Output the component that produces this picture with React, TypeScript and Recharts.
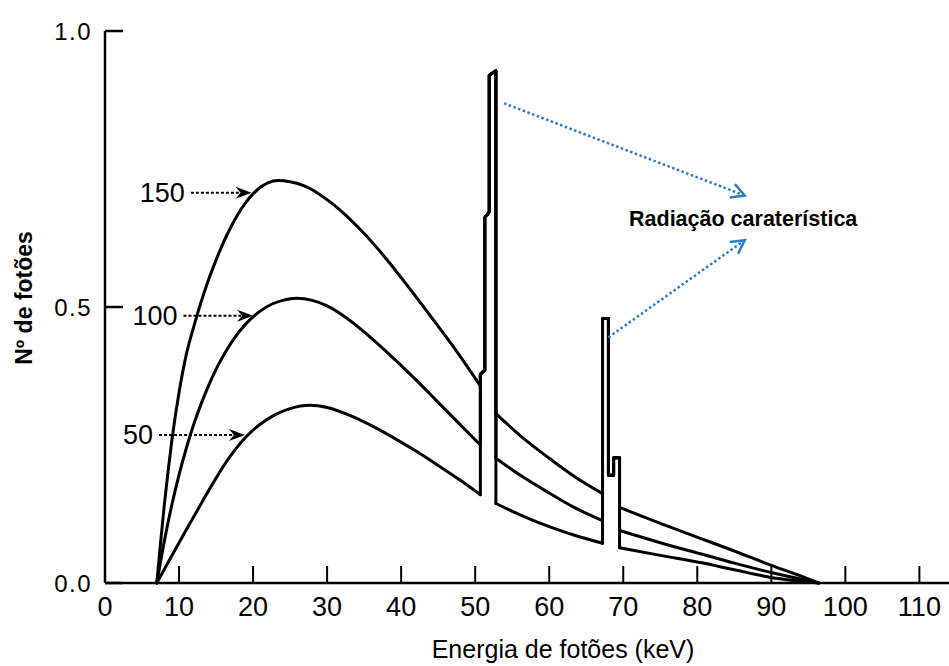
import { LineChart, Line, XAxis, YAxis, ReferenceLine, ReferenceDot } from 'recharts';

const FONT = "'Liberation Sans', Arial, Helvetica, sans-serif";
const INK = '#000000';
const NOTE_BLUE = '#2b7bc4';

// axis ticks
const energyTicks = [0, 10, 20, 30, 40, 50, 60, 70, 80, 90, 100, 110];
const countTicks = [0, 0.5, 1];

// 150 kVp spectrum: bremsstrahlung parts between the characteristic lines
const kv150Low = [
  [7, 0], [7.5, 0.072], [8, 0.14], [8.5, 0.2], [9, 0.255], [10, 0.345], [11, 0.415], [12, 0.465],
  [13, 0.51], [14, 0.55], [15, 0.585], [16, 0.617], [17, 0.645], [18, 0.669], [19, 0.689],
  [20, 0.705], [21, 0.717], [22, 0.725], [23.4, 0.729], [25, 0.727], [27, 0.719], [29, 0.704],
  [31, 0.684], [33, 0.66], [35, 0.633], [38, 0.587], [41, 0.536], [44, 0.483], [47, 0.429], [50.7, 0.357],
];
const kv150Mid = [[52.8, 0.307], [56, 0.268], [60, 0.226], [63.5, 0.192], [67.2, 0.162]];
const kv150High = [[69.5, 0.137], [75, 0.108], [80.4, 0.081], [85, 0.058], [90, 0.032], [93.5, 0.015], [96.4, 0]];

// 100 kVp
const kv100Low = [
  [7, 0], [8, 0.075], [9, 0.14], [10, 0.196], [11, 0.245], [12, 0.288], [13, 0.325], [14, 0.358],
  [15, 0.387], [16, 0.412], [17, 0.434], [18, 0.453], [19, 0.469], [20, 0.482], [21, 0.493],
  [22.5, 0.505], [24, 0.512], [25.9, 0.516], [28, 0.512], [30, 0.502], [32, 0.486], [35, 0.455],
  [38, 0.419], [41, 0.381], [44, 0.341], [47, 0.3], [50.7, 0.25],
];
const kv100Mid = [[52.8, 0.226], [56, 0.196], [60, 0.163], [63.5, 0.136], [67.2, 0.113]];
const kv100High = [[69.5, 0.095], [75, 0.073], [80.4, 0.053], [85, 0.036], [90, 0.019], [96.4, 0]];

// 50 kVp
const kv50Low = [
  [7, 0], [9, 0.049], [11, 0.097], [13, 0.144], [15, 0.19], [17, 0.231], [19, 0.264], [21, 0.288],
  [23, 0.305], [25, 0.316], [27.7, 0.322], [30, 0.318], [33, 0.304], [36, 0.285], [39, 0.263],
  [42, 0.239], [45, 0.213], [48, 0.186], [50.7, 0.16],
];
const kv50Mid = [[52.8, 0.144], [56, 0.124], [60, 0.102], [63.5, 0.086], [67.2, 0.072]];
const kv50High = [[69.5, 0.064], [75, 0.05], [80.4, 0.037], [85, 0.024], [90, 0.01], [96.4, 0]];

// outline of the characteristic lines (shared by the three spectra)
const firstLines = [[50.7, 0.378], [51.3, 0.386], [51.3, 0.662], [51.9, 0.672], [51.9, 0.92], [52.8, 0.928]];
const secondLines = [[67.2, 0.479], [68.0, 0.479], [68.0, 0.195], [68.7, 0.195], [68.7, 0.227], [69.5, 0.227]];

// annotations
const tubeLabels = ['150', '100', '50'];
const tubeArrowFrom = [11.6, 10.6, 7.3];
const tubeArrowTo = [19.8, 20.0, 18.9];
const tubeArrowAt = [0.707, 0.484, 0.268];
const noteText = 'Radiação caraterística';
const noteAt = [86.2, 0.66];
const noteArrows = [
  [[53.9, 0.869], [86.4, 0.702]],
  [[68.0, 0.445], [86.4, 0.621]],
];

type Pt = number[];
const rows = (pts: Pt[]) => pts.map(([x, y]) => ({ x, y }));
const last = (pts: Pt[]) => pts[pts.length - 1];

const spectra = [
  { id: '150', low: kv150Low, mid: kv150Mid, high: kv150High },
  { id: '100', low: kv100Low, mid: kv100Mid, high: kv100High },
  { id: '50', low: kv50Low, mid: kv50Mid, high: kv50High },
];

function segmentsFor(s: (typeof spectra)[number]) {
  const spike1 = [[firstLines[0][0], last(s.low)[1]], ...firstLines, [last(firstLines)[0], s.mid[0][1]]];
  const spike2 = [[secondLines[0][0], last(s.mid)[1]], ...secondLines, [last(secondLines)[0], s.high[0][1]]];
  return [
    { key: `${s.id}-low`, pts: s.low, type: 'monotone' },
    { key: `${s.id}-k1`, pts: spike1, type: 'linear' },
    { key: `${s.id}-mid`, pts: s.mid, type: 'monotone' },
    { key: `${s.id}-k2`, pts: spike2, type: 'linear' },
    { key: `${s.id}-high`, pts: s.high, type: 'monotone' },
  ];
}

function TubeArrow(props: any) {
  const { x1, y1, x2, y2, text } = props;
  const len = 16;
  const half = 6;
  const bx = x2 - len;
  return (
    <g>
      <line x1={x1} y1={y1} x2={bx + 4} y2={y2} stroke={INK} strokeWidth={2} strokeDasharray="3 2" />
      <polygon
        points={`${x2},${y2} ${bx},${y2 - half} ${bx + 5},${y2} ${bx},${y2 + half}`}
        fill={INK}
      />
      <text x={x1 - 6} y={y1} textAnchor="end" dominantBaseline="central" fontFamily={FONT} fontSize={27} fill={INK}>
        {text}
      </text>
    </g>
  );
}

function NoteArrow(props: any) {
  const { x1, y1, x2, y2 } = props;
  const a = Math.atan2(y2 - y1, x2 - x1);
  const L = 15;
  const w = 0.5;
  const p1 = [x2 - L * Math.cos(a - w), y2 - L * Math.sin(a - w)];
  const p2 = [x2 - L * Math.cos(a + w), y2 - L * Math.sin(a + w)];
  return (
    <g>
      <line x1={x1} y1={y1} x2={x2} y2={y2} stroke={NOTE_BLUE} strokeWidth={2.5} strokeDasharray="2.5 2.5" />
      <polyline
        points={`${p1[0]},${p1[1]} ${x2},${y2} ${p2[0]},${p2[1]}`}
        fill="none"
        stroke={NOTE_BLUE}
        strokeWidth={2.5}
      />
    </g>
  );
}

function NoteText(props: any) {
  const { cx, cy } = props;
  return (
    <text x={cx} y={cy} textAnchor="middle" dominantBaseline="central" fontFamily={FONT} fontWeight="bold" fontSize={21.5} fill={INK}>
      {noteText}
    </text>
  );
}

function XTitle(props: any) {
  const { viewBox } = props;
  return (
    <text x={viewBox.x + 458} y={viewBox.y + 75} textAnchor="middle" fontFamily={FONT} fontSize={25} fill={INK}>
      Energia de fotões  (keV)
    </text>
  );
}

function YTitle(props: any) {
  const { viewBox } = props;
  const cx = 24;
  const cy = viewBox.y + viewBox.height / 2 - 9;
  return (
    <text
      x={cx}
      y={cy}
      transform={`rotate(-90, ${cx}, ${cy})`}
      textAnchor="middle"
      dominantBaseline="central"
      fontFamily={FONT}
      fontWeight="bold"
      fontSize={23}
      fill={INK}
    >
      Nº de fotões
    </text>
  );
}

export default function App() {
  const lines = spectra.flatMap(segmentsFor);
  return (
    <div style={{ position: 'absolute', left: 0, top: 0, width: 949, height: 666, background: '#fff' }}>
      <LineChart width={949} height={666} margin={{ top: 31, right: 0, bottom: 0, left: 0 }}>
        <XAxis
          type="number"
          dataKey="x"
          domain={[0, 114]}
          ticks={energyTicks}
          interval={0}
          allowDataOverflow
          height={83}
          tickSize={-17}
          tickMargin={31}
          axisLine={{ stroke: INK, strokeWidth: 2.5 }}
          tickLine={{ stroke: INK, strokeWidth: 2 }}
          tick={{ fill: INK, fontSize: 27, fontFamily: FONT }}
          label={{ content: XTitle }}
        />
        <YAxis
          type="number"
          domain={[0, 1]}
          ticks={countTicks}
          interval={0}
          width={105}
          tickSize={-18}
          tickMargin={31}
          tickFormatter={(v: number) => v.toFixed(1)}
          axisLine={{ stroke: INK, strokeWidth: 2.5 }}
          tickLine={{ stroke: INK, strokeWidth: 2.5 }}
          tick={{ fill: INK, fontSize: 24, fontFamily: FONT, letterSpacing: 1.5 }}
          label={{ content: YTitle }}
        />
        {lines.map((seg) => (
          <Line
            key={seg.key}
            data={rows(seg.pts)}
            dataKey="y"
            type={seg.type as any}
            stroke={INK}
            strokeWidth={3}
            strokeLinejoin="round"
            strokeLinecap="round"
            dot={false}
            activeDot={false}
            isAnimationActive={false}
          />
        ))}
        {tubeLabels.map((t, i) => (
          <ReferenceLine
            key={`arrow-${t}`}
            segment={[
              { x: tubeArrowFrom[i], y: tubeArrowAt[i] },
              { x: tubeArrowTo[i], y: tubeArrowAt[i] },
            ]}
            shape={(p: any) => <TubeArrow {...p} text={t} />}
          />
        ))}
        {noteArrows.map(([a, b], i) => (
          <ReferenceLine
            key={`note-${i}`}
            segment={[
              { x: a[0], y: a[1] },
              { x: b[0], y: b[1] },
            ]}
            shape={(p: any) => <NoteArrow {...p} />}
          />
        ))}
        <ReferenceDot x={noteAt[0]} y={noteAt[1]} r={0} shape={(p: any) => <NoteText {...p} />} />
      </LineChart>
    </div>
  );
}
